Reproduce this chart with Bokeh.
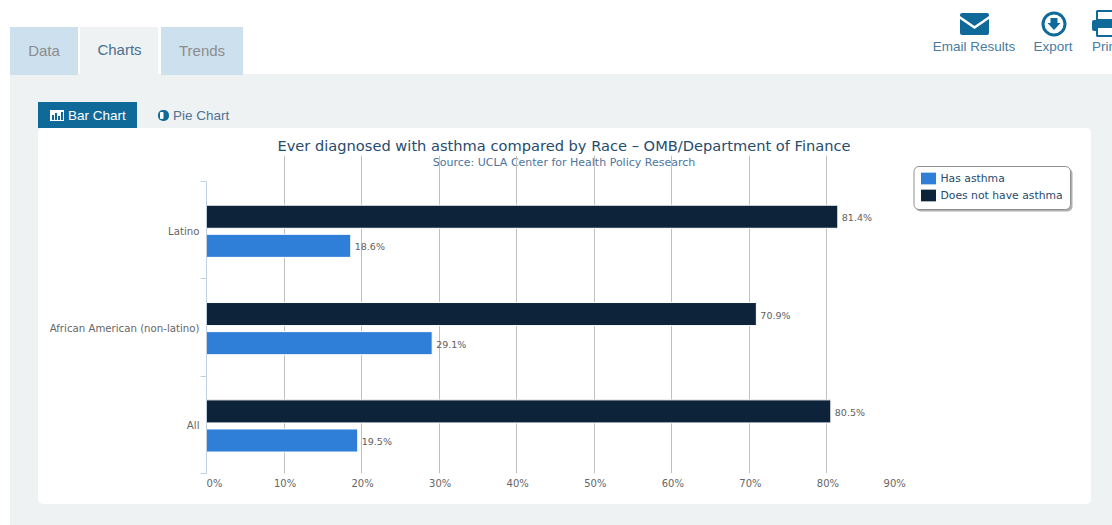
from bokeh.plotting import figure
from bokeh.layouts import column
from bokeh.embed import file_html
from bokeh.resources import INLINE
from bokeh.core.properties import value
from bokeh.models import (Range1d, FixedTicker, BoxAnnotation, PolyAnnotation, Label, Legend, LegendItem,
                          ColumnDataSource)

categories = ["All", "African American (non-latino)", "Latino"]
has_asthma = [19.5, 29.1, 18.6]
no_asthma = [80.5, 70.9, 81.4]
x_ticks = [0, 10, 20, 30, 40, 50, 60, 70, 80, 90]
x_label_pos = [1.03, 10.13, 20.13, 30.13, 40.13, 50.13, 60.13, 70.13, 80.13, 88.73]
y_label_pos = [0.49, 1.49, 2.49]
series_names = ["Has asthma", "Does not have asthma"]
title_text = "Ever diagnosed with asthma compared by Race \u2013 OMB/Department of Finance"
subtitle_text = "Source: UCLA Center for Health Policy Research"

UI = "Liberation Sans"
CH = "DejaVu Sans"
PANEL = "#eef2f3"
TAB = "#cde0ee"
ACC = "#0f6a9a"
BLUE = "#2f7ed8"
DARK = "#0d233a"
W, H = 1112, 525

# ---- page furniture: a figure whose frame is the whole window, in pixels
bg = figure(width=W, height=H, output_backend="svg", toolbar_location=None,
            x_range=Range1d(0.5, W + 0.5), y_range=Range1d(H + 0.5, 0.5),
            x_axis_location=None, y_axis_location=None, min_border=0,
            background_fill_color="white", border_fill_color="white", outline_line_color=None)
bg.grid.visible = False

def box(l, t, r, b, color, radius=0, line=None, lw=1):
    bg.add_layout(BoxAnnotation(left=l, right=r, top=t, bottom=b, fill_color=color, fill_alpha=1,
                                line_color=line, line_alpha=1, line_width=lw, border_radius=radius, level="underlay"))

def poly(pts, color):
    bg.add_layout(PolyAnnotation(xs=[x for x, _ in pts], ys=[y for _, y in pts], xs_units="data", ys_units="data",
                                 fill_color=color, fill_alpha=1, line_color=None, level="underlay"))

def label(x, y, text, size, color, font=UI, align="left"):
    bg.add_layout(Label(x=x, y=y, text=text, text_font=font, text_font_size=f"{size}px", text_color=color,
                        text_align=align, text_baseline="middle"))

box(10, 74, 1120, 530, PANEL)
box(10, 27, 78, 75, TAB)
box(80, 27, 158, 75, PANEL)
box(161, 27, 243, 75, TAB)
label(44, 50.2, "Data", 15, "#8c8c8c", align="center")
label(119.5, 49.2, "Charts", 15, "#4a6f8f", align="center")
label(202, 50.2, "Trends", 15, "#8c8c8c", align="center")
box(38, 128, 1091, 504, "white", radius=5)
box(38, 102, 137, 128, ACC)
box(50, 110, 64, 121, "white")
for l, t in [(52, 115), (55, 113), (58, 116), (61, 112)]:
    box(l, t, l + 2, 120, ACC)
label(68, 115.5, "Bar Chart", 13.5, "white")
box(158, 110, 169, 121, ACC, radius=5)
box(160, 112, 163.5, 119, "white", radius=1)
label(173, 115.5, "Pie Chart", 13.5, "#4f7391")
# e-mail, export, print icons
box(960, 13, 989, 35, ACC, radius=2)
poly([(960, 16), (974.5, 26), (989, 16), (989, 19), (974.5, 29), (960, 19)], "white")
label(974, 46.2, "Email Results", 13.5, "#4a7ba0", align="center")
box(1043, 13, 1065, 35, "white", radius=11, line=ACC, lw=3)
poly([(1050.5, 18), (1057.5, 18), (1057.5, 23), (1060.5, 23), (1054, 30), (1047.5, 23), (1050.5, 23)], ACC)
label(1053, 46.2, "Export", 13.5, "#4a7ba0", align="center")
box(1097, 11, 1120, 20, "white", line=ACC, lw=2)
box(1092, 20, 1120, 31, ACC, radius=2)
box(1097, 27, 1120, 36, "white", line=ACC, lw=2)
label(1092, 46.2, "Print", 13.5, "#4a7ba0")

label(564, 145.5, title_text, 14.64, "#274b6d", font=CH, align="center")
label(564, 162.3, subtitle_text, 11, "#4d759e", font=CH, align="center")

# legend frame and shadow
box(915.5, 168.5, 1072.5, 211.5, "#b0b0b0", radius=5)
box(914, 166.5, 1070.5, 209.5, "white", radius=5, line="#909090")

# ---- the chart itself, laid transparently over the furniture
TOP, BOTTOM, LEFT, RIGHT = 155, 52, 206, 208
cat_h = (H - BOTTOM - 181) / len(categories)
p = figure(frame_width=W - LEFT - RIGHT, frame_height=H - TOP - BOTTOM, output_backend="svg", toolbar_location=None,
           x_range=Range1d(0, 90), y_range=Range1d(0, (H - BOTTOM - TOP) / cat_h),
           min_border_left=LEFT, min_border_right=RIGHT, min_border_top=TOP, min_border_bottom=BOTTOM,
           background_fill_color=None, border_fill_color=None, outline_line_color=None)

p.xaxis.ticker = FixedTicker(ticks=x_label_pos)
p.xaxis.major_label_overrides = {q: f"{t}%" for q, t in zip(x_label_pos, x_ticks)}
p.xaxis.major_label_text_font = CH
p.xaxis.major_label_text_font_size = "10px"
p.xaxis.major_label_text_color = "#666666"
p.xaxis.major_label_standoff = 4
p.xaxis.major_tick_line_color = None
p.xaxis.major_tick_out = 0
p.xaxis.major_tick_in = 0
p.xaxis.minor_tick_line_color = None
p.xaxis.axis_line_color = None

cat_pos = [i + 0.5 for i in range(len(categories))]
p.yaxis.ticker = FixedTicker(ticks=y_label_pos, minor_ticks=list(range(len(categories) + 1)))
p.yaxis.bounds = (0, len(categories))
p.yaxis.major_label_overrides = dict(zip(y_label_pos, categories))
p.yaxis.major_label_text_font = CH
p.yaxis.major_label_text_font_size = "10.2px"
p.yaxis.major_label_text_color = "#666666"
p.yaxis.major_label_standoff = 1
p.yaxis.major_tick_line_color = None
p.yaxis.minor_tick_line_color = "#c0d0e0"
p.yaxis.minor_tick_out = 6
p.yaxis.minor_tick_in = 0
p.yaxis.axis_line_color = "#c0d0e0"

p.xgrid.ticker = FixedTicker(ticks=x_ticks)
p.xgrid.bounds = (0, len(categories))
p.xgrid.grid_line_color = "#c0c0c0"
p.ygrid.grid_line_color = None

src = ColumnDataSource(dict(
    pos=cat_pos, has=has_asthma, no=no_asthma,
    has_lab=[f"{v}%" for v in has_asthma], no_lab=[f"{v}%" for v in no_asthma],
    y_has=[c - 0.161 for c in cat_pos], y_no=[c + 0.138 for c in cat_pos]))
r_has = p.hbar(y="y_has", right="has", left=0, height=0.237, source=src,
               fill_color=BLUE, line_color="white", line_width=1)
r_no = p.hbar(y="y_no", right="no", left=0, height=0.237, source=src,
              fill_color=DARK, line_color="white", line_width=1)
for yc, tc, xc in [("y_has", "has_lab", "has"), ("y_no", "no_lab", "no")]:
    p.text(x=xc, y=yc, text=tc, source=src, x_offset=4, y_offset=1, text_baseline="middle",
           text_font=value(CH), text_font_size="9.5px", text_color="#606060")

leg = Legend(items=[LegendItem(label=series_names[0], renderers=[r_has]),
                    LegendItem(label=series_names[1], renderers=[r_no])],
             location=(13.5, 270), orientation="vertical", background_fill_alpha=0, border_line_color=None,
             label_text_font=CH, label_text_font_size="10.8px", label_text_color="#274b6d",
             glyph_width=20, glyph_height=16, spacing=1, padding=0, margin=0,
             label_standoff=3, label_height=12)
p.add_layout(leg, "right")

top_layer = column(p)
top_layer.margin = (-H, 0, 0, 0)
page = column(column(bg), top_layer, spacing=0)
open("out.html", "w").write(file_html(page, INLINE))
